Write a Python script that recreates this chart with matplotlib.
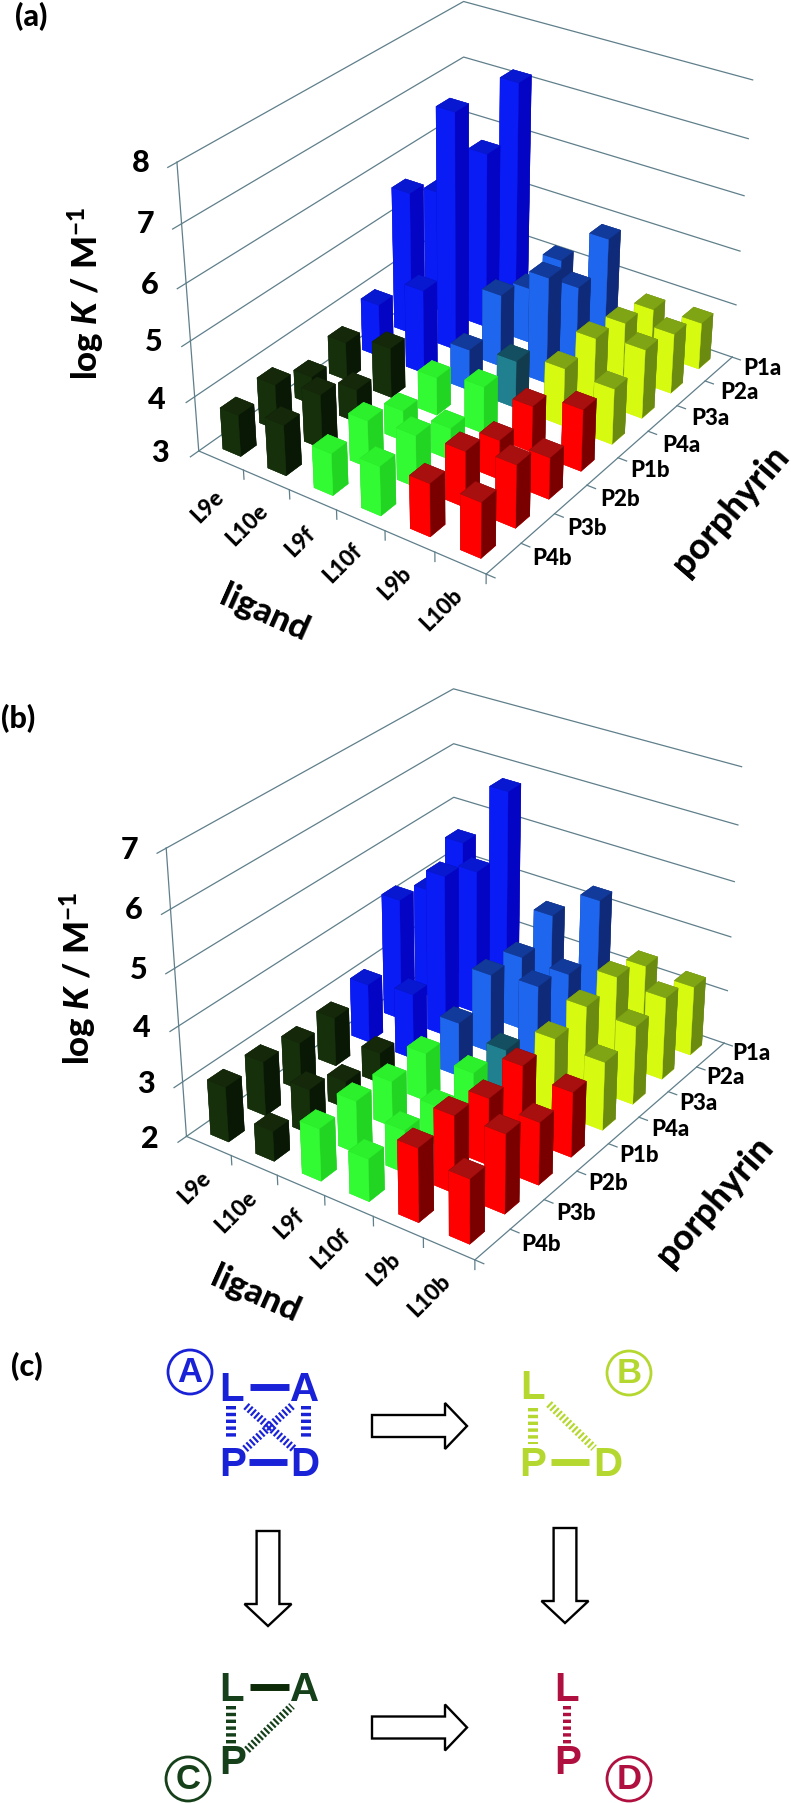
import numpy as np
import matplotlib
matplotlib.use('Agg')
import matplotlib.pyplot as plt
from matplotlib.patches import Polygon, Circle

W_PX, H_PX = 791, 1803
WT = 'black'
plt.rcParams['font.family'] = ['Lato', 'DejaVu Sans']
plt.rcParams['mathtext.fontset'] = 'custom'
plt.rcParams['mathtext.rm'] = 'Lato:black'
plt.rcParams['mathtext.bf'] = 'Lato:black'
plt.rcParams['mathtext.it'] = 'Lato:italic:black'
plt.rcParams['mathtext.bfit'] = 'Lato:italic:black'

ligands = ['L9e', 'L10e', 'L9f', 'L10f', 'L9b', 'L10b']
porphyrins = ['P1a', 'P2a', 'P3a', 'P4a', 'P1b', 'P2b', 'P3b', 'P4b']

# log K values: rows = porphyrins, columns = ligands
log_k_a = [[5.44,7.17,4.16,4.85,3.82,3.87],
           [5.26,6.25,4.03,4.36,4.00,4.11],
           [5.65,7.35,4.34,4.96,4.16,4.27],
           [3.98,4.55,3.76,3.87,4.06,4.02],
           [3.71,3.92,3.70,3.86,3.84,4.12],
           [3.52,3.61,3.56,3.58,3.71,3.75],
           [3.84,3.99,3.86,3.94,4.01,4.13],
           [3.76,3.92,3.76,3.89,3.95,3.99]]
log_k_b = [[4.57,5.77,3.74,4.30,3.37,3.28],
           [4.04,4.67,3.36,3.34,3.59,3.51],
           [4.26,4.97,3.45,3.54,3.48,3.43],
           [3.09,3.21,2.99,2.81,3.34,3.24],
           [2.90,2.56,2.88,2.85,3.31,3.17],
           [2.88,2.49,2.83,2.70,3.20,3.12],
           [2.99,2.82,2.95,2.77,3.38,3.41],
           [3.00,2.54,2.94,2.76,3.31,3.14]]

calib_a = [(0,0,3,198.5,451),(0,0,5,190.7,340.4),(0,0,8,176.6,162.8),(0,8,8,464.2,1.8),(0,8,7,463.3,56.7),
           (6,8,8,751.8,79.5),(6,8,7,749.3,138.7),(6,8,4,735.6,305.2),(6,8,3,732.2,357.2),(6,0,3,486.5,574)]
calib_b = [(0,0,7,166.5,848.2),(0,0,5,174,968.5),(0,0,3,182.6,1082),(0,0,2,186.7,1136),(0,8,7,454,688.4),
           (0,8,6,454,743.9),(0,8,5,453,797.6),(6,8,7,741.7,766.8),(6,8,5,734,881.5),(6,8,3,726.6,990.5),
           (6,8,2,725,1043.3),(6,0,2,475,1260)]

def camera(pts):
    pts = np.array(pts, float)
    U = np.array([[1/3,0,0,-1],[0,1/4,0,-1],[0,0,1/3,-5/3],[0,0,0,1]])
    T = np.array([[1/400,0,-1],[0,1/400,-2],[0,0,1]])
    rows = []
    for X,Y,Z,u,v in pts:
        w = U @ [X,Y,Z,1]
        p = T @ [u,v,1]
        rows.append(np.r_[w, 0,0,0,0, -p[0]*w])
        rows.append(np.r_[0,0,0,0, w, -p[1]*w])
    s = np.linalg.svd(np.array(rows))[2][-1].reshape(3,4)
    P = np.linalg.inv(T) @ s @ U
    c = P[2] @ [3,4,4,1]
    return P / c

P_a, P_b = camera(calib_a), camera(calib_b)
xc = [0.5+i for i in range(6)]
yc = [7.5-j for j in range(8)]

GRID = '#5f7f8a'
PAL = {'dg':('#16300c','#15290a','#081804'),'lg':('#33fb33','#2bf02b','#22d522'),'rd':('#ff0000','#a80f0f','#7a0000'),
       'bl':('#0a1cf5','#0818d0','#0404c4'),'lb':('#1f66ee','#123a9a','#0f2a78'),'te':('#20808f','#134f60','#123c4d'),
       'ye':('#d6fb10','#80a514','#6a8a10')}
def color_key(j,i):
    if j==3 and i==3: return 'te'
    if j<4: return ['bl','lb','ye'][i//2]
    return ['dg','lg','rd'][i//2]

def panel(rect_top, P, vals, z0, z1):
    h = W_PX/H_PX
    ax = fig.add_axes([0, (H_PX-rect_top-W_PX)/H_PX, 1, h], projection='3d')
    ax.set_axis_off()
    ax.computed_zorder = False
    D = np.array([[1,0,0],[0,-1,H_PX],[0,0,1.]]) @ P
    def get_proj():
        inv = ax.transData.inverted().get_matrix()
        Q = inv @ D
        return np.array([Q[0],Q[1],[0,0,0,-1.],Q[2]])
    ax.get_proj = get_proj
    lk = dict(color=GRID, lw=0.9, zorder=1)
    for z in range(z0, z1+1):
        ax.plot([0,0,6],[0,8,8],[z,z,z], **lk)
        ax.plot([0,0],[0,-0.22],[z,z], **lk)
    ax.plot([0,0],[0,0],[z0,z1], **lk)
    ax.plot([0,6,6],[0,0,8],[z0,z0,z0], **lk)
    for t in range(1,7):
        ax.plot([t,t],[0,0],[z0,z0-0.17], **lk)
    for t in range(0,9):
        ax.plot([6,6.17],[t,t],[z0,z0], **lk)
    dx, dy = 0.40, 0.42
    order = 2
    for j in range(8):
        for i in range(6):
            fr, tp, rt = PAL[color_key(j,i)]
            cols = [fr, tp, fr, rt, rt, rt]
            ax.bar3d(xc[i]-dx/2, yc[j]-dy/2, z0, dx, dy, vals[j][i]-z0, color=cols, edgecolor=cols,
                     linewidth=0.3, shade=False, zorder=order)
            order += 1
    return ax

fig = plt.figure(figsize=(791.001/100, 1803.001/100), dpi=100)
fig.patch.set_facecolor('white')
panel(0, P_a, log_k_a, 3, 8)
panel(590, P_b, log_k_b, 2, 7)

ov = fig.add_axes([0,0,1,1], zorder=10)
ov.set_xlim(0,W_PX); ov.set_ylim(H_PX,0); ov.axis('off'); ov.patch.set_alpha(0)
def T(x,y,s,size,rot=0,color='black',fam=None,weight=WT):
    ov.text(x,y,s,fontsize=size,rotation=rot,color=color,ha='center',va='center',weight=weight,
            family=fam or ['Lato','DejaVu Sans'],rotation_mode='anchor')

T(31,17,'(a)',22); T(18,719,'(b)',22); T(26.5,1367,'(c)',22)
for s,x,y in zip('876543',[141,146,150,154,157,160.4],[163,224,285,342,399.6,453]): T(x,y,s,22)
for s,x,y in zip('765432',[130,133.7,138.7,142,146,150],[850,910.4,970.3,1027.7,1084,1138.7]): T(x,y,s,22)
ylab = r'log $\mathbfit{K}$ / M$^{\mathbf{-1}}$'
T(86,293,ylab,25,90); T(78,978,ylab,25,90)
for s,x,y in zip(ligands,[208,247,300,343,395,441],[507,525,542,563,583,610]): T(x,y,s,16,45)
for s,x,y in zip(ligands,[195,236,289,331,384,429],[1188,1212,1224,1249,1269,1296]): T(x,y,s,16,45)
for s,x,y in zip(porphyrins,[762,739,710,681,650,620,587,552],[368,392,418,445,470,499,528,558]): T(x,y,s,16)
for s,x,y in zip(porphyrins,[751,725,698,670,639,608,576,541],[1053,1077,1103,1129,1155,1183,1213,1244]): T(x,y,s,16)
T(264,613,'ligand',25,-24); T(255,1294,'ligand',25,-24)
T(731,510,'porphyrin',26,49); T(715,1201,'porphyrin',26,49)

AR = 'Liberation Sans'
BLUE,YEL,DGR,CRM = '#1a22d8','#b5d830','#15401a','#b01040'
def letters(items,color):
    for s,x,y in items: T(x,y,s,29,0,color,AR,'bold')
def solid(x0,x1,y,color):
    ov.plot([x0,x1],[y,y],color=color,lw=5,solid_capstyle='butt')
def hatch(x0,y0,x1,y1,color,w=10,on=3.4,off=3.4):
    ov.plot([x0,x1],[y0,y1],color=color,lw=w*0.72,ls=(0,(on/w,off/w)),dash_capstyle='butt')
def badge(x,y,s,color):
    ov.add_patch(Circle((x,y),22,fc='white',ec=color,lw=2))
    T(x,y,s,25,0,color,AR,'bold')
letters([('L',232,1390),('A',305,1390),('P',232.6,1465),('D',305,1465)],BLUE)
solid(250,288.6,1387.5,BLUE); solid(249,287,1462.5,BLUE)
hatch(231.4,1406,231.4,1440,BLUE); hatch(306,1406,306,1440,BLUE)
hatch(246,1406,294,1449,BLUE,8,2.2,2.2); hatch(292,1406,245,1449,BLUE,8,2.2,2.2)
badge(190,1372,'A',BLUE)
letters([('L',532.7,1388),('P',532.7,1465),('D',608,1465)],YEL)
solid(551,589,1462.5,YEL); hatch(532.7,1408,532.7,1444,YEL); hatch(549,1404,594,1448,YEL,8,2.2,2.2)
badge(629,1373,'B',YEL)
letters([('L',232,1690),('A',305,1690),('P',232.6,1763)],DGR)
solid(250,288.6,1687.5,'#0c2a08'); hatch(231.4,1706,231.4,1744,DGR); hatch(247,1750,292,1706,DGR,8,2.2,2.2)
badge(188,1779,'C',DGR)
letters([('L',567,1690),('P',568,1763)],CRM)
hatch(567.3,1706,567.3,1744,CRM,8)
badge(629,1779,'D',CRM)

def arrow_r(y):
    x0,xh,xt,a,b = 372,445,467,11,23
    ov.add_patch(Polygon([(x0,y-a),(xh,y-a),(xh,y-b),(xt,y),(xh,y+b),(xh,y+a),(x0,y+a)],fc='white',ec='black',lw=1.7))
def arrow_d(x,y0):
    yh,yt,a,b = y0+73,y0+95,11.4,23.5
    ov.add_patch(Polygon([(x-a,y0),(x-a,yh),(x-b,yh),(x,yt),(x+b,yh),(x+a,yh),(x+a,y0)],fc='white',ec='black',lw=1.7))
arrow_r(1426); arrow_r(1727.5); arrow_d(268,1531); arrow_d(565,1528)

fig.savefig('out.png', dpi=100, facecolor='white')
